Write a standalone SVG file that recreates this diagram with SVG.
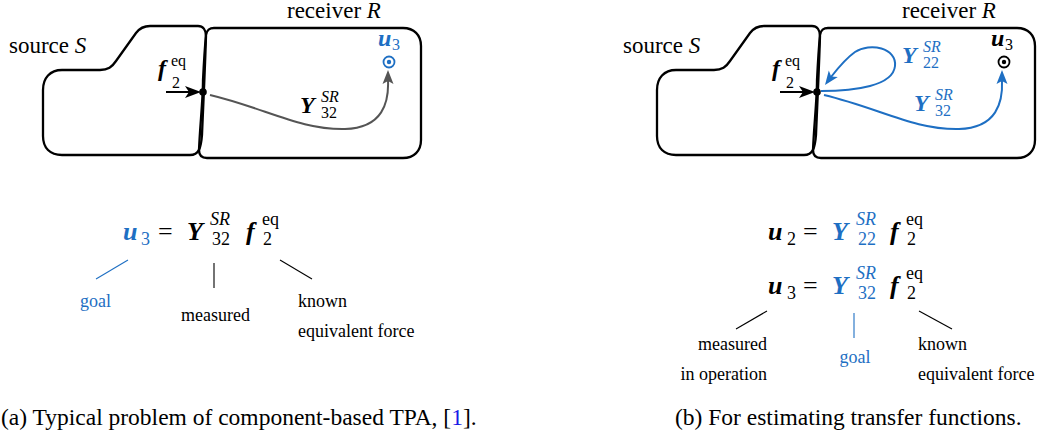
<svg xmlns="http://www.w3.org/2000/svg" width="1039" height="444" viewBox="0 0 1039 444" font-family="Liberation Serif, serif">
<style>
.b{fill:#1e6fc3}
.lbl{font-size:18px}
.cap{font-size:23.5px}
.top{font-size:23px}
.m{font-size:26px;font-weight:bold;font-style:italic}
.mt{font-size:24px;font-weight:bold;font-style:italic}
.r{font-size:26px}
.s{font-size:18px}
.si{font-size:18px;font-style:italic}
.st{font-size:16px}
.sti{font-size:16px;font-style:italic}
.it{font-style:italic}
.shape{fill:#fff;stroke:#000;stroke-width:2.3;stroke-linejoin:round}
.ln{stroke:#000;stroke-width:1.1;fill:none}
.lnb{stroke:#1e6fc3;stroke-width:1.1;fill:none}
</style>
<g id="source-a">
<path class="shape" d="M62,70 H100 C108,70 112,67 116,61 L136,33 C139,29 143,26 150,26 H198 C203,26 206,30 206,36 C205,70 203,110 202,135 C201,148 199,155 190,155 H62 C50,155 43,148 43,136 V90 C43,78 50,70 62,70 Z"/>
<text class="top" x="9" y="53" font-family="Liberation Serif">source <tspan class="it">S</tspan></text>
</g>
<g id="receiver-a">
<path class="shape" fill-opacity="0" d="M214,28 H403 C414,28 421,35 421,46 V140 C421,151 414,158 403,158 H207 C202,158 199,155 199,150 C200,125 203,100 203,80 C204,60 205,45 206,35 C207,30 209,28 214,28 Z"/>
<text class="top" x="287" y="18" font-family="Liberation Serif">receiver <tspan class="it">R</tspan></text>
</g>
<g id="point-u3-a">
<circle cx="389" cy="62" r="5.5" fill="#fff" stroke="#1e6fc3" stroke-width="1.8"/>
<circle cx="389" cy="62" r="2.2" fill="#1e6fc3"/>
<text class="mt b" x="378" y="46" font-family="Liberation Serif">u</text>
<text class="st b" x="392" y="50" font-family="Liberation Serif">3</text>
</g>
<g id="node-f2-a">
<circle cx="203" cy="92" r="3.8" fill="#000"/>
<text class="mt" x="158" y="76" font-family="Liberation Serif">f</text>
<text class="st" x="171" y="66" font-family="Liberation Serif">eq</text>
<text class="st" x="172" y="88" font-family="Liberation Serif">2</text>
</g>
<g id="label-Y32-a">
<text class="mt" x="300" y="113" font-family="Liberation Serif">Y</text>
<text class="sti" x="321" y="102" font-family="Liberation Serif">SR</text>
<text class="st" x="321" y="118" font-family="Liberation Serif">32</text>
</g>
<g id="source-b">
<path class="shape" transform="translate(614,0)" d="M62,70 H100 C108,70 112,67 116,61 L136,33 C139,29 143,26 150,26 H198 C203,26 206,30 206,36 C205,70 203,110 202,135 C201,148 199,155 190,155 H62 C50,155 43,148 43,136 V90 C43,78 50,70 62,70 Z"/>
<text class="top" x="623" y="53" font-family="Liberation Serif">source <tspan class="it">S</tspan></text>
</g>
<g id="receiver-b">
<path class="shape" fill-opacity="0" transform="translate(614,0)" d="M214,28 H403 C414,28 421,35 421,46 V140 C421,151 414,158 403,158 H207 C202,158 199,155 199,150 C200,125 203,100 203,80 C204,60 205,45 206,35 C207,30 209,28 214,28 Z"/>
<text class="top" x="902" y="18" font-family="Liberation Serif">receiver <tspan class="it">R</tspan></text>
</g>
<g id="point-u3-b">
<circle cx="1004" cy="62" r="5.5" fill="#fff" stroke="#000" stroke-width="1.8"/>
<circle cx="1004" cy="62" r="2.2" fill="#000"/>
<text class="mt" x="991" y="46" font-family="Liberation Serif">u</text>
<text class="st" x="1005" y="50" font-family="Liberation Serif">3</text>
</g>
<g id="node-f2-b">
<circle cx="817" cy="92" r="3.8" fill="#000"/>
<text class="mt" x="772" y="76" font-family="Liberation Serif">f</text>
<text class="st" x="785" y="66" font-family="Liberation Serif">eq</text>
<text class="st" x="786" y="88" font-family="Liberation Serif">2</text>
</g>
<g id="label-Y22-b">
<text class="mt b" x="902" y="63" font-family="Liberation Serif">Y</text>
<text class="sti b" x="923" y="52" font-family="Liberation Serif">SR</text>
<text class="st b" x="923" y="68" font-family="Liberation Serif">22</text>
</g>
<g id="label-Y32-b">
<text class="mt b" x="914" y="111" font-family="Liberation Serif">Y</text>
<text class="sti b" x="935" y="100" font-family="Liberation Serif">SR</text>
<text class="st b" x="935" y="116" font-family="Liberation Serif">32</text>
</g>
<g id="connectors" fill="none">
<path d="M166,92 H190" stroke="#000" stroke-width="2"/>
<path d="M185,86 L201,92 L185,98 L189,92 Z" fill="#000"/>
<path d="M210,95 C265,108 300,130 345,129 C383,128 389,102 388,80" stroke="#555" stroke-width="2"/>
<path d="M388,70 L393.5,84 L388,81 L382.5,84 Z" fill="#555"/>
<path d="M780,92 H804" stroke="#000" stroke-width="2"/>
<path d="M799,86 L815,92 L799,98 L803,92 Z" fill="#000"/>
<path d="M824,95 C879,108 914,130 959,129 C997,128 1003,102 1002,80" stroke="#1e6fc3" stroke-width="2"/>
<path d="M1002,70 L1007.5,84 L1002,81 L996.5,84 Z" fill="#1e6fc3"/>
<path d="M821,91 C855,91 893,86 895,66 C897,48 870,42 855,52 C845,59 838,68 831,77" stroke="#1e6fc3" stroke-width="2"/>
<path d="M825,85 L837.8,77 L831.2,76.5 L828.8,70.5 Z" fill="#1e6fc3"/>
</g>
<g id="equation-a">
<text class="m b" x="123" y="240" font-family="Liberation Serif">u</text>
<text class="s b" x="141" y="245" font-family="Liberation Serif">3</text>
<text class="r" x="158" y="240" font-family="Liberation Serif">=</text>
<text class="m" x="187" y="240" font-family="Liberation Serif">Y</text>
<text class="si" x="210" y="225" font-family="Liberation Serif">SR</text>
<text class="s" x="212" y="245" font-family="Liberation Serif">32</text>
<text class="m" x="246" y="240" font-family="Liberation Serif">f</text>
<text class="s" x="262" y="225" font-family="Liberation Serif">eq</text>
<text class="s" x="263" y="245" font-family="Liberation Serif">2</text>
</g>
<g id="annot-a">
<line class="lnb" x1="128" y1="260" x2="96" y2="279"/>
<line class="ln" x1="214" y1="263" x2="214" y2="288"/>
<line class="ln" x1="280" y1="260" x2="312" y2="279"/>
<text class="lbl b" x="80" y="307" font-family="Liberation Serif">goal</text>
<text class="lbl" x="181" y="321" font-family="Liberation Serif">measured</text>
<text class="lbl" x="298" y="307" font-family="Liberation Serif">known</text>
<text class="lbl" x="298" y="337" font-family="Liberation Serif">equivalent force</text>
</g>
<g id="equation-b1">
<text class="m" x="768" y="240" font-family="Liberation Serif">u</text>
<text class="s" x="787" y="245" font-family="Liberation Serif">2</text>
<text class="r" x="803" y="240" font-family="Liberation Serif">=</text>
<text class="m b" x="832" y="240" font-family="Liberation Serif">Y</text>
<text class="si b" x="856" y="225" font-family="Liberation Serif">SR</text>
<text class="s b" x="858" y="245" font-family="Liberation Serif">22</text>
<text class="m" x="890" y="240" font-family="Liberation Serif">f</text>
<text class="s" x="906" y="225" font-family="Liberation Serif">eq</text>
<text class="s" x="907" y="245" font-family="Liberation Serif">2</text>
</g>
<g id="equation-b2">
<text class="m" x="768" y="294" font-family="Liberation Serif">u</text>
<text class="s" x="787" y="299" font-family="Liberation Serif">3</text>
<text class="r" x="803" y="294" font-family="Liberation Serif">=</text>
<text class="m b" x="832" y="294" font-family="Liberation Serif">Y</text>
<text class="si b" x="856" y="279" font-family="Liberation Serif">SR</text>
<text class="s b" x="858" y="299" font-family="Liberation Serif">32</text>
<text class="m" x="890" y="294" font-family="Liberation Serif">f</text>
<text class="s" x="906" y="279" font-family="Liberation Serif">eq</text>
<text class="s" x="907" y="299" font-family="Liberation Serif">2</text>
</g>
<g id="annot-b">
<line class="ln" x1="767" y1="311" x2="736" y2="329"/>
<line class="lnb" x1="854" y1="313" x2="854" y2="338"/>
<line class="ln" x1="919" y1="311" x2="952" y2="329"/>
<text class="lbl" x="767" y="350" text-anchor="end" font-family="Liberation Serif">measured</text>
<text class="lbl" x="767" y="380" text-anchor="end" font-family="Liberation Serif">in operation</text>
<text class="lbl b" x="855" y="363" text-anchor="middle" font-family="Liberation Serif">goal</text>
<text class="lbl" x="918" y="350" font-family="Liberation Serif">known</text>
<text class="lbl" x="918" y="380" font-family="Liberation Serif">equivalent force</text>
</g>
<g id="captions">
<text class="cap" x="1" y="425" font-family="Liberation Serif">(a) Typical problem of component-based TPA, [<tspan fill="#1a1ae6">1</tspan>].</text>
<text class="cap" x="675" y="425" font-family="Liberation Serif">(b) For estimating transfer functions.</text>
</g>
</svg>
